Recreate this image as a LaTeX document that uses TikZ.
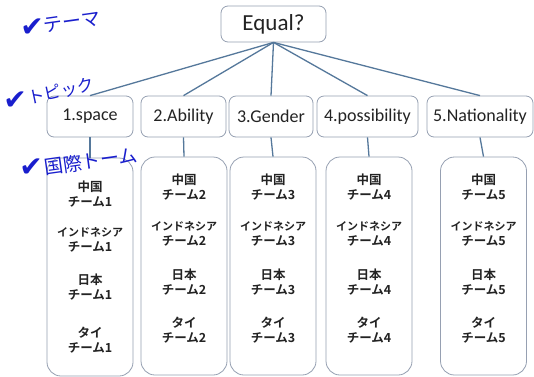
\documentclass[tikz,border=0pt]{standalone}
\usepackage{fontspec}
\setmainfont{Carlito}
\newfontfamily\jp{Noto Sans CJK JP}[BoldFont={Noto Sans CJK JP Bold}]
\newfontfamily\sym{DejaVu Sans}
\definecolor{linec}{RGB}{85,120,155}
\definecolor{boxc}{RGB}{150,160,178}
\definecolor{inkc}{RGB}{25,30,205}
\definecolor{txtc}{RGB}{35,35,35}
\begin{document}
\begin{tikzpicture}[x=1pt,y=-1pt,
 topic/.style={draw=boxc, line width=0.8pt, fill=white, rounded corners=7pt, inner sep=0pt, text=txtc, font=\fontsize{18}{21}\selectfont, minimum height=41pt},
 team/.style={draw=boxc, line width=0.8pt, fill=white, rounded corners=14pt, inner sep=0pt, minimum height=218pt, minimum width=86pt},
 conn/.style={draw=linec, line width=1.3pt},
 pair/.style={font=\jp\bfseries\fontsize{12.5}{15}\selectfont, text=txtc, align=center, inner sep=0pt},
 ink/.style={text=inkc, inner sep=0pt},
 chk/.style={ink, font=\sym\fontsize{28}{28}\selectfont},
 inkjp/.style={ink, font=\jp\fontsize{19}{19}\selectfont}]
\useasboundingbox (0,0) rectangle (534,376);
\fill[white] (0,0) rectangle (534,376);
% root
\node[topic, minimum width=105pt, minimum height=36pt, font=\fontsize{23}{26}\selectfont] (root) at (273.5,24) {Equal?};
% topics
\node[topic, minimum width=86pt] (t1) at (90,116.5) {1.space};
\node[topic, minimum width=85pt] (t2) at (183.5,116.5) {2.Ability};
\node[topic, minimum width=84pt] (t3) at (271,116.5) {3.Gender};
\node[topic, minimum width=101pt] (t4) at (367.5,116.5) {4.possibility};
\node[topic, minimum width=106pt] (t5) at (480,116.5) {5.Nationality};
% team boxes
\node[team] (b1) at (90,267) {};
\node[team] (b2) at (184,266) {};
\node[team] (b3) at (273,266) {};
\node[team] (b4) at (369,266) {};
\node[team] (b5) at (483.5,266) {};
% connectors
\foreach \i in {1,...,5}{
  \draw[conn] (root.south) -- (t\i.north);
  \draw[conn] (t\i.south) -- (b\i.north);
}
% team texts
\node[pair] (p1a) at (90,194.5) {中国\\チーム1};
\node[pair] (p1b) at (90,240) {{\fontsize{11}{15}\selectfont インドネシア}\\チーム1};
\node[pair] (p1c) at (90,287.5) {日本\\チーム1};
\node[pair] (p1d) at (90,340) {タイ\\チーム1};
\foreach \i/\x in {2/184,3/273,4/369,5/483.5}{
  \node[pair] (p\i a) at (\x,187.5) {中国\\チーム\i};
  \node[pair] (p\i b) at (\x,234) {{\fontsize{11}{15}\selectfont インドネシア}\\チーム\i};
  \node[pair] (p\i c) at (\x,282) {日本\\チーム\i};
  \node[pair] (p\i d) at (\x,330) {タイ\\チーム\i};
}
% handwritten labels
\node[chk] (k1) at (32,28) {✔};
\node[inkjp, rotate=8] (l1) at (72,22) {テーマ};
\node[chk] (k2) at (15,101) {✔};
\node[inkjp, font=\jp\fontsize{17}{17}\selectfont, rotate=12] (l2) at (61,91) {トピック};
\node[chk] (k3) at (31,168) {✔};
\node[inkjp, rotate=8] (l3) at (91,161) {国際トーム};
\end{tikzpicture}
\end{document}
